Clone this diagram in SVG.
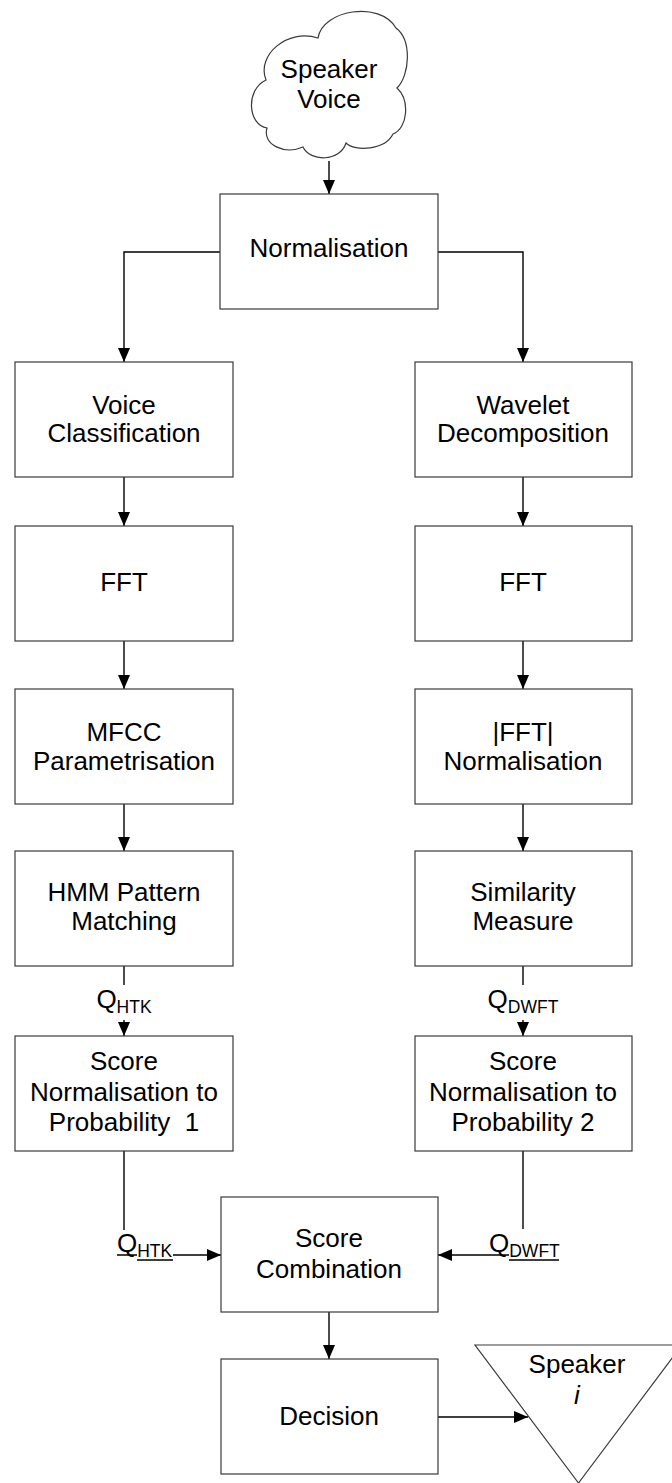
<svg xmlns="http://www.w3.org/2000/svg" width="672" height="1483" viewBox="0 0 672 1483">
  <style>
    .box { fill: #ffffff; stroke: #3a3a3a; stroke-width: 1.2; }
    .wire { fill: none; stroke: #000000; stroke-width: 1.4; }
    .uline { fill: none; stroke: #000000; stroke-width: 1.3; }
    .lbl { font-family: "Liberation Sans", Arial, sans-serif; font-size: 26px; fill: #000000; text-anchor: middle; }
    .q { font-family: "Liberation Sans", Arial, sans-serif; font-size: 26px; fill: #000000; }
    .sub { font-size: 17.5px; }
  </style>
  <defs>
    <marker id="arrow" viewBox="0 0 14 12" refX="14" refY="6" markerWidth="14" markerHeight="12" markerUnits="userSpaceOnUse" orient="auto">
      <path d="M0,0 L14,6 L0,12 Z" fill="#000000"/>
    </marker>
  </defs>
  <rect width="672" height="1483" fill="#ffffff"/>

  <!-- connectors -->
  <g id="connectors">
    <path class="wire" d="M329,161 V194" marker-end="url(#arrow)"/>
    <path class="wire" d="M220,252 H124 V362" marker-end="url(#arrow)"/>
    <path class="wire" d="M438,252 H523 V362" marker-end="url(#arrow)"/>
    <path class="wire" d="M124,477 V526" marker-end="url(#arrow)"/>
    <path class="wire" d="M124,641 V689" marker-end="url(#arrow)"/>
    <path class="wire" d="M124,804 V851" marker-end="url(#arrow)"/>
    <path class="wire" d="M523,477 V526" marker-end="url(#arrow)"/>
    <path class="wire" d="M523,641 V689" marker-end="url(#arrow)"/>
    <path class="wire" d="M523,804 V851" marker-end="url(#arrow)"/>
    <path class="wire" d="M124,966 V985"/>
    <path class="wire" d="M124,1020 V1036" marker-end="url(#arrow)"/>
    <path class="wire" d="M523,966 V985"/>
    <path class="wire" d="M523,1020 V1036" marker-end="url(#arrow)"/>
    <path class="wire" d="M124,1151 V1230"/>
    <path class="wire" d="M173,1255 H221" marker-end="url(#arrow)"/>
    <path class="wire" d="M523,1151 V1229"/>
    <path class="wire" d="M489,1255 H438" marker-end="url(#arrow)"/>
    <path class="wire" d="M329,1312 V1359" marker-end="url(#arrow)"/>
    <path class="wire" d="M438,1417 H528" marker-end="url(#arrow)"/>
    <!-- score labels on the connectors -->
    <text class="q" x="124" y="1008" text-anchor="middle">Q<tspan class="sub" dy="5">HTK</tspan></text>
    <text class="q" x="523" y="1008" text-anchor="middle">Q<tspan class="sub" dy="5">DWFT</tspan></text>
    <text class="q" x="117" y="1252">Q<tspan class="sub" dy="5">HTK</tspan></text>
    <text class="q" x="489" y="1252">Q<tspan class="sub" dy="5">DWFT</tspan></text>
    <!-- underlines of the combined score labels -->
    <path class="uline" d="M117,1255 H137 M137,1260 H173"/>
    <path class="uline" d="M489,1255 H509 M509,1260 H559"/>
  </g>

  <g id="speaker-voice">
    <path class="box" d="M266,80 C256,55 288,28 318,38 C322,10 380,0 396,28 C412,40 410,75 397,88 C410,100 408,128 393,134 C385,150 355,152 346,143 C340,162 310,162 303,147 C285,155 262,145 267,128 C248,125 245,90 266,80 Z"/>
    <text class="lbl" x="329" y="78">Speaker</text>
    <text class="lbl" x="329" y="108">Voice</text>
  </g>

  <g id="normalisation">
    <rect class="box" x="220" y="194" width="218" height="115"/>
    <text class="lbl" x="329" y="257">Normalisation</text>
  </g>

  <g id="voice-classification">
    <rect class="box" x="15" y="362" width="218" height="115"/>
    <text class="lbl" x="124" y="414">Voice</text>
    <text class="lbl" x="124" y="442">Classification</text>
  </g>

  <g id="wavelet-decomposition">
    <rect class="box" x="415" y="362" width="217" height="115"/>
    <text class="lbl" x="523" y="414">Wavelet</text>
    <text class="lbl" x="523" y="442">Decomposition</text>
  </g>

  <g id="fft-left">
    <rect class="box" x="15" y="526" width="218" height="115"/>
    <text class="lbl" x="124" y="591">FFT</text>
  </g>

  <g id="fft-right">
    <rect class="box" x="415" y="526" width="217" height="115"/>
    <text class="lbl" x="523" y="591">FFT</text>
  </g>

  <g id="mfcc">
    <rect class="box" x="15" y="689" width="218" height="115"/>
    <text class="lbl" x="124" y="741">MFCC</text>
    <text class="lbl" x="124" y="770">Parametrisation</text>
  </g>

  <g id="fft-normalisation">
    <rect class="box" x="415" y="689" width="217" height="115"/>
    <text class="lbl" x="523" y="741">|FFT|</text>
    <text class="lbl" x="523" y="770">Normalisation</text>
  </g>

  <g id="hmm">
    <rect class="box" x="15" y="851" width="218" height="115"/>
    <text class="lbl" x="124" y="901">HMM Pattern</text>
    <text class="lbl" x="124" y="930">Matching</text>
  </g>

  <g id="similarity">
    <rect class="box" x="415" y="851" width="217" height="115"/>
    <text class="lbl" x="523" y="901">Similarity</text>
    <text class="lbl" x="523" y="930">Measure</text>
  </g>

  <g id="score-norm-1">
    <rect class="box" x="15" y="1036" width="218" height="115"/>
    <text class="lbl" x="124" y="1070">Score</text>
    <text class="lbl" x="124" y="1101">Normalisation to</text>
    <text class="lbl" x="124" y="1131" xml:space="preserve">Probability  1</text>
  </g>

  <g id="score-norm-2">
    <rect class="box" x="415" y="1036" width="217" height="115"/>
    <text class="lbl" x="523" y="1070">Score</text>
    <text class="lbl" x="523" y="1101">Normalisation to</text>
    <text class="lbl" x="523" y="1131">Probability 2</text>
  </g>

  <g id="score-combination">
    <rect class="box" x="221" y="1197" width="217" height="115"/>
    <text class="lbl" x="329" y="1247">Score</text>
    <text class="lbl" x="329" y="1278">Combination</text>
  </g>

  <g id="decision">
    <rect class="box" x="221" y="1359" width="217" height="115"/>
    <text class="lbl" x="329" y="1425">Decision</text>
  </g>

  <g id="speaker-i">
    <polygon class="box" points="475,1345 682,1345 578.5,1483"/>
    <text class="lbl" x="577" y="1373">Speaker</text>
    <text class="lbl" x="577" y="1404" font-style="italic">i</text>
  </g>
</svg>
